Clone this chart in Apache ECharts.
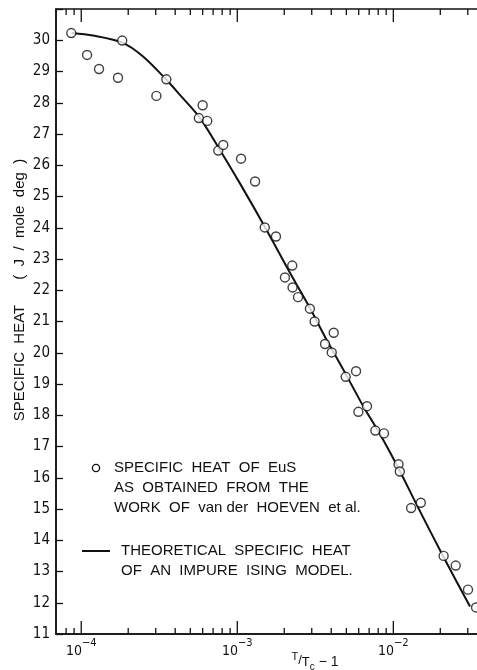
<!DOCTYPE html>
<html>
<head>
<meta charset="utf-8">
<script src="https://cdn.jsdelivr.net/npm/echarts@6/dist/echarts.min.js"></script>
<style>html,body{margin:0;padding:0;background:#fff;}#c{width:477px;height:670px;}</style>
</head>
<body>
<div id="c"></div>
<script>
// Measured data: reduced temperature T/Tc - 1 and specific heat (J / mole deg)
const dataT = [8.63e-5, 1.09e-4, 1.30e-4, 1.72e-4, 1.83e-4, 3.03e-4, 3.51e-4, 5.67e-4, 6.00e-4, 6.42e-4, 7.55e-4, 8.13e-4, 1.057e-3, 1.30e-3, 1.50e-3, 1.77e-3, 2.02e-3, 2.25e-3, 2.26e-3, 2.45e-3, 2.92e-3, 3.13e-3, 3.65e-3, 4.03e-3, 4.15e-3, 4.95e-3, 5.77e-3, 5.97e-3, 6.78e-3, 7.67e-3, 8.71e-3, 1.08e-2, 1.10e-2, 1.30e-2, 1.50e-2, 2.10e-2, 2.51e-2, 3.01e-2, 3.39e-2];
const dataC = [30.23, 29.53, 29.08, 28.80, 29.99, 28.22, 28.75, 27.51, 27.92, 27.42, 26.47, 26.65, 26.21, 25.48, 24.01, 23.72, 22.41, 22.79, 22.09, 21.78, 21.41, 21.00, 20.28, 20.01, 20.64, 19.23, 19.41, 18.11, 18.29, 17.51, 17.42, 16.43, 16.20, 15.03, 15.20, 13.50, 13.19, 12.42, 11.85];
// Theoretical curve (impure Ising model)
const curveT = [8.68e-5, 1.19e-4, 1.82e-4, 2.49e-4, 3.49e-4, 4.29e-4, 5.77e-4, 7.74e-4, 1.04e-3, 1.54e-3, 2.18e-3, 2.92e-3, 3.74e-3, 4.78e-3, 6.43e-3, 8.22e-3, 1.076e-2, 1.41e-2, 2.09e-2, 3.10e-2];
const curveC = [30.23, 30.15, 29.93, 29.48, 28.75, 28.25, 27.51, 26.49, 25.42, 23.93, 22.55, 21.43, 20.41, 19.46, 18.28, 17.39, 16.31, 15.14, 13.48, 11.88];
// Axis ticks
const xMajorTicks = [1e-4, 1e-3, 1e-2];
const xMinorTicks = [8e-5, 9e-5, 2e-4, 3e-4, 4e-4, 5e-4, 6e-4, 7e-4, 8e-4, 9e-4, 2e-3, 3e-3, 4e-3, 5e-3, 6e-3, 7e-3, 8e-3, 9e-3, 2e-2, 3e-2];
const xMin = 6.89e-5, xMax = 0.0354;
const yMin = 11, yMax = 31, yStep = 1;

const NARROW = "'Liberation Sans Narrow','DejaVu Sans Condensed','Liberation Sans',sans-serif";
const SANS = "'Liberation Sans',Arial,sans-serif";

const chart = echarts.init(document.getElementById('c'), null, {renderer: 'canvas'});

const tickData = xMajorTicks.map(v => [v, 1]).concat(xMinorTicks.map(v => [v, 0]));

function isPow10(v) {
  const l = Math.log10(v);
  return Math.abs(l - Math.round(l)) < 1e-6;
}

chart.setOption({
  animation: false,
  backgroundColor: '#fff',
  grid: {left: 56, right: -2, top: 9, bottom: 36, outerBoundsMode: 'none', containLabel: false,
         show: true, borderColor: '#111', borderWidth: 1.5, backgroundColor: 'transparent'},
  xAxis: {
    type: 'log', logBase: 10, min: xMin, max: xMax,
    axisLine: {show: true, onZero: false, lineStyle: {color: '#111', width: 1.5}},
    axisTick: {show: false},
    splitLine: {show: false},
    axisLabel: {
      margin: 4,
      formatter: function (v) {
        if (!isPow10(v)) return '';
        return '{b|10}{s|\u2212' + Math.abs(Math.round(Math.log10(v))) + '}';
      },
      rich: {
        b: {fontFamily: NARROW, fontSize: 14, color: '#111', lineHeight: 20, verticalAlign: 'bottom'},
        s: {fontFamily: NARROW, fontSize: 11, color: '#111', lineHeight: 20, verticalAlign: 'top'}
      }
    }
  },
  yAxis: {
    type: 'value', min: yMin, max: yMax, interval: yStep,
    axisLine: {show: true, lineStyle: {color: '#111', width: 1.5}},
    axisTick: {show: true, inside: true, length: 7, lineStyle: {color: '#111', width: 1.3}},
    splitLine: {show: false},
    axisLabel: {
      margin: 6, color: '#111', fontFamily: NARROW, fontSize: 15,
      formatter: function (v) { return v >= yMax ? '' : String(v); }
    }
  },
  series: [
    {
      type: 'custom', name: 'ticks', silent: true, clip: false, z: 5,
      data: tickData,
      renderItem: function (params, api) {
        const x = api.value(0), major = api.value(1);
        const pb = api.coord([x, yMin]);
        const pt = api.coord([x, yMax]);
        const L = major ? 13 : 6;
        return {type: 'group', children: [
          {type: 'line', shape: {x1: pb[0], y1: pb[1], x2: pb[0], y2: pb[1] - L}, style: {stroke: '#111', lineWidth: 1.3}},
          {type: 'line', shape: {x1: pt[0], y1: pt[1], x2: pt[0], y2: pt[1] + L}, style: {stroke: '#111', lineWidth: 1.3}}
        ]};
      }
    },
    {
      type: 'line', name: 'THEORETICAL SPECIFIC HEAT OF AN IMPURE ISING MODEL.',
      data: curveT.map((t, i) => [t, curveC[i]]),
      showSymbol: false, smooth: 0.3,
      lineStyle: {color: '#111', width: 2}, z: 2
    },
    {
      type: 'scatter', name: 'SPECIFIC HEAT OF EuS',
      data: dataT.map((t, i) => [t, dataC[i]]),
      symbol: 'circle', symbolSize: 9,
      itemStyle: {color: '#fff', borderColor: '#111', borderWidth: 1.4},
      z: 3
    }
  ],
  graphic: [
    {type: 'text', x: 20, y: 290, rotation: Math.PI / 2,
     style: {text: 'SPECIFIC  HEAT      (  J  /  mole  deg  )', font: '15px ' + SANS, fill: '#111', align: 'center', verticalAlign: 'middle'}},
    {type: 'text', x: 315, y: 660,
     style: {
       text: '{a|T}{b|/}{c|T}{d|c}{e| \u2212 1}', align: 'center', verticalAlign: 'middle',
       rich: {
         a: {fontFamily: SANS, fontSize: 11, fill: '#111', lineHeight: 18, verticalAlign: 'top'},
         b: {fontFamily: SANS, fontSize: 13, fill: '#111', lineHeight: 18, verticalAlign: 'middle'},
         c: {fontFamily: SANS, fontSize: 13, fill: '#111', lineHeight: 18, verticalAlign: 'bottom'},
         d: {fontFamily: SANS, fontSize: 10, fill: '#111', lineHeight: 18, verticalAlign: 'bottom', padding: [0, 0, -3, 0]},
         e: {fontFamily: SANS, fontSize: 14, fill: '#111', lineHeight: 18, verticalAlign: 'bottom'}
       }
     }},
    {type: 'circle', shape: {cx: 96, cy: 468, r: 3.6}, style: {fill: '#fff', stroke: '#111', lineWidth: 1.3}},
    {type: 'text', x: 114, y: 468, style: {text: 'SPECIFIC  HEAT  OF  EuS', font: '15px ' + SANS, fill: '#111', verticalAlign: 'middle'}},
    {type: 'text', x: 114, y: 488, style: {text: 'AS  OBTAINED  FROM  THE', font: '15px ' + SANS, fill: '#111', verticalAlign: 'middle'}},
    {type: 'text', x: 114, y: 508, style: {text: 'WORK  OF  van der  HOEVEN  et al.', font: '15px ' + SANS, fill: '#111', verticalAlign: 'middle'}},
    {type: 'line', shape: {x1: 82, y1: 551, x2: 110, y2: 551}, style: {stroke: '#111', lineWidth: 2}},
    {type: 'text', x: 121, y: 551, style: {text: 'THEORETICAL  SPECIFIC  HEAT', font: '15px ' + SANS, fill: '#111', verticalAlign: 'middle'}},
    {type: 'text', x: 121, y: 571, style: {text: 'OF  AN  IMPURE  ISING  MODEL.', font: '15px ' + SANS, fill: '#111', verticalAlign: 'middle'}}
  ]
});
</script>
</body>
</html>
